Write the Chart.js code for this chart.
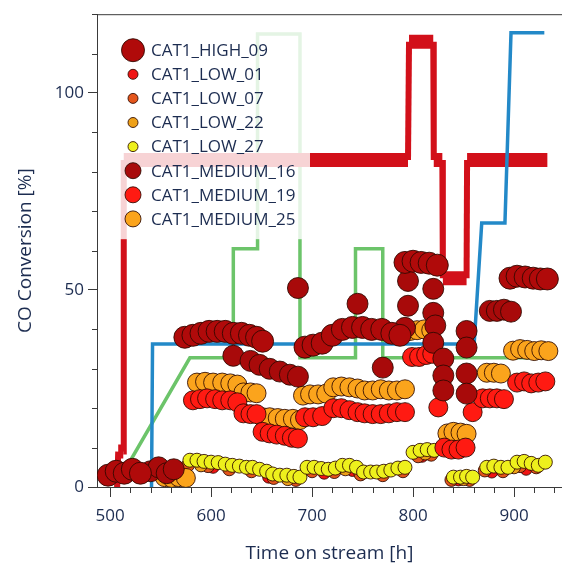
<!DOCTYPE html>
<html><head><meta charset="utf-8">
<script src="https://cdn.jsdelivr.net/npm/chart.js@4.4.1/dist/chart.umd.min.js"></script>
<style>html,body{margin:0;padding:0;background:#fff;}canvas{display:block;}</style>
</head><body>
<canvas id="c" width="562" height="569"></canvas>
<script>
// ---------- text ----------
const xTitle = 'Time on stream [h]';
const yTitle = 'CO Conversion [%]';
const xTicks = [500, 600, 700, 800, 900];
const yTicks = [0, 50, 100];
const xMinorStep = 20;
const yMinorStep = 10;
const seriesNames = ['CAT1_HIGH_09','CAT1_LOW_01','CAT1_LOW_07','CAT1_LOW_22','CAT1_LOW_27','CAT1_MEDIUM_16','CAT1_MEDIUM_19','CAT1_MEDIUM_25'];

// ---------- marker series (hours, CO conversion %) ----------
const high09Hours  = [498, 506, 514, 522, 530, 574, 582, 590, 598, 606, 614, 622, 630, 638, 645, 651, 693, 701, 710, 720, 730, 740, 750, 759, 769, 779, 787, 792, 800, 808, 816, 824, 896, 903, 911, 919, 926, 933];
const high09Values = [3, 4, 3.5, 4.5, 3.5, 38, 38.5, 39, 39.5, 39.5, 39.5, 39, 39, 38.5, 38, 37, 35.5, 36, 36.5, 38.5, 40, 40.5, 40.5, 40, 40, 39, 38.5, 57, 57.3, 57, 56.8, 56.3, 53, 53.5, 53.3, 53, 52.8, 52.8];

const low01Hours  = [602, 657, 712, 740, 809, 845, 878, 912];
const low01Values = [5, 2.5, 3.5, 4.2, 7.8, 1.8, 3.8, 4.5];

const low07Hours  = [577, 597, 618, 640, 662, 684, 700, 722, 748, 770, 790, 805, 818, 838, 856, 871, 889, 906, 922];
const low07Values = [5.5, 5.3, 4.5, 4, 2.3, 1.8, 4, 3.8, 3.2, 3, 4, 7.8, 8.2, 1.8, 1.8, 4.2, 4, 5.3, 5];

const low22Hours  = [590, 676, 733, 812, 850, 900];
const low22Values = [5.5, 2, 4.5, 8.5, 2, 5];

const low27Hours  = [579, 586, 593, 600, 607, 614, 621, 628, 635, 641, 648, 655, 661, 668, 675, 682, 688, 695, 702, 709, 716, 723, 730, 737, 744, 751, 758, 764, 771, 778, 785, 792, 800, 807, 814, 821, 840, 847, 853, 859, 873, 880, 887, 894, 903, 910, 917, 924, 931];
const low27Values = [6.8, 6.8, 6.5, 6.3, 6.2, 5.8, 5.5, 5.3, 5, 5, 4.5, 4, 3.3, 3, 3, 2.7, 2.5, 5, 5, 4.7, 4.5, 4.8, 5.5, 5.5, 5, 3.8, 3.8, 3.8, 4, 4.3, 4.8, 5, 8.8, 9.3, 9.5, 9.3, 2.5, 2.5, 2.7, 2.5, 5, 5.3, 5, 5, 6.3, 6.5, 6, 5.5, 6.3];

const medium16Hours  = [540, 548, 556, 563, 622, 639, 648, 658, 668, 678, 686, 686, 745, 770, 792, 795, 795, 820, 820, 822, 820, 830, 830, 830, 853, 853, 853, 853, 876, 883, 890, 897];
const medium16Values = [4, 5, 3.5, 4.5, 33.3, 32, 31, 30, 29.3, 28.5, 28, 50.5, 46.5, 30.3, 40.4, 52.3, 46, 50.3, 44.2, 41, 36.6, 32.6, 28.3, 24.5, 39.6, 35.4, 28.8, 23.7, 44.7, 44.7, 45, 44.5];

const medium19Hours  = [582, 589, 596, 604, 611, 619, 626, 632, 639, 645, 651, 658, 665, 673, 680, 686, 693, 701, 710, 721, 729, 737, 745, 752, 760, 768, 776, 784, 792, 799, 806, 813, 819, 825, 831, 838, 845, 852, 859, 869, 876, 883, 890, 903, 910, 917, 924, 931];
const medium19Values = [22, 22.3, 22.5, 22.3, 22, 22, 21.5, 18.7, 18.5, 18.5, 14, 13.6, 13.3, 13, 12.5, 12.3, 17.7, 17.7, 18, 20, 20, 19.5, 19, 18.7, 18.5, 18.5, 18.7, 19, 19, 33, 33, 33.5, 33.8, 20.2, 10, 9.5, 9.5, 10, 19, 22.5, 22.5, 22.5, 22.3, 26.5, 26.8, 26.3, 26.5, 26.8];

const medium25Hours  = [554, 561, 568, 575, 586, 594, 602, 611, 619, 626, 632, 639, 645, 651, 658, 666, 673, 681, 688, 691, 698, 706, 714, 721, 729, 737, 745, 752, 760, 768, 776, 784, 792, 797, 804, 811, 818, 834, 840, 847, 853, 873, 880, 887, 899, 906, 913, 920, 927, 934];
const medium25Values = [2.5, 2.3, 2.5, 2.3, 26.5, 26.7, 26.5, 26.5, 26.3, 26, 24, 24, 23.8, 17.7, 17.7, 17.5, 17.3, 17.3, 17, 23.2, 23.5, 23.5, 23.7, 25.3, 25.5, 25.3, 25, 24.5, 24.5, 24.8, 24.5, 24.5, 24.8, 39.6, 39.8, 40, 39.8, 13.6, 14, 13.8, 13.5, 29, 29, 28.8, 34.6, 35, 34.8, 34.5, 34.7, 34.5];

// ---------- step lines ----------
const redLineHours   = [507, 508, 513, 513.5, 795, 796, 820, 820.5, 829, 829.5, 853, 853.5, 933];
const redLineValues  = [0, 9, 9, 83, 83, 113, 113, 83, 83, 53, 53, 83, 83];
const blueLineHours  = [541, 542, 860.5, 868, 891, 897, 930];
const blueLineValues = [0, 36.3, 36.3, 67, 67, 115.3, 115.3];
const greenLineHours  = [505, 579, 622, 622, 646, 646, 688, 688, 743, 743, 770, 770, 933];
const greenLineValues = [0, 32.8, 32.8, 60.5, 60.5, 115, 115, 32.8, 32.8, 60.5, 60.5, 32.8, 32.8];

// ---------- styles ----------
const FONT = "'Open Sans', 'DejaVu Sans', sans-serif";
const TEXT = '#1c2c50';
const AXIS = '#3a3a3a';
const MARKER_EDGE = 'rgba(45,8,0,0.85)';
const styles = {
  'CAT1_HIGH_09':   {fill:'#b00a0a', r:11,  legendR:11.5, order:1},
  'CAT1_LOW_01':    {fill:'#f01414', r:6,   legendR:5,    order:8},
  'CAT1_LOW_07':    {fill:'#e4561c', r:6.5, legendR:5,    order:7},
  'CAT1_LOW_22':    {fill:'#eea018', r:6.5, legendR:5,    order:6},
  'CAT1_LOW_27':    {fill:'#eef01c', r:7,   legendR:5,    order:5},
  'CAT1_MEDIUM_16': {fill:'#a80a0a', r:10.5,legendR:8,    order:2},
  'CAT1_MEDIUM_19': {fill:'#ff1a12', r:9.5, legendR:8,    order:3},
  'CAT1_MEDIUM_25': {fill:'#fba41c', r:9.5, legendR:8,    order:4}
};
const seriesData = {
  'CAT1_HIGH_09':   [high09Hours, high09Values],
  'CAT1_LOW_01':    [low01Hours, low01Values],
  'CAT1_LOW_07':    [low07Hours, low07Values],
  'CAT1_LOW_22':    [low22Hours, low22Values],
  'CAT1_LOW_27':    [low27Hours, low27Values],
  'CAT1_MEDIUM_16': [medium16Hours, medium16Values],
  'CAT1_MEDIUM_19': [medium19Hours, medium19Values],
  'CAT1_MEDIUM_25': [medium25Hours, medium25Values]
};
const pts = (h, v) => h.map((x, i) => ({x: x, y: v[i]}));

const datasets = seriesNames.map(n => ({
  label: n,
  data: pts(seriesData[n][0], seriesData[n][1]),
  backgroundColor: styles[n].fill,
  borderColor: MARKER_EDGE,
  borderWidth: 1,
  pointRadius: styles[n].r,
  pointHoverRadius: styles[n].r,
  order: styles[n].order
}));

datasets.push({
  label: 'blue', data: pts(blueLineHours, blueLineValues), showLine: true,
  borderColor: '#2389c8', borderWidth: 3.5, pointRadius: 0, order: 20
});
datasets.push({
  label: 'red', data: pts(redLineHours, redLineValues), showLine: true,
  borderColor: '#d2101a', borderWidth: 7, pointRadius: 0, order: 21,
  segment: { borderWidth: ctx => (ctx.p0.parsed.y === ctx.p1.parsed.y ? 14 : 6) }
});
datasets.push({
  label: 'green', data: pts(greenLineHours, greenLineValues), showLine: true,
  borderColor: '#6cc46a', borderWidth: 3.5, pointRadius: 0, order: 22
});

// legend drawn inside the plot, over the data
const insideLegend = {
  id: 'insideLegend',
  afterDatasetsDraw(chart) {
    const {ctx, chartArea: a} = chart;
    const x0 = a.left + 16, y0 = a.top + 10, w = 197, h = 215;
    ctx.save();
    ctx.fillStyle = 'rgba(255,255,255,0.82)';
    ctx.fillRect(x0, y0, w, h);
    ctx.font = '17px ' + FONT;
    ctx.textBaseline = 'middle';
    ctx.textAlign = 'left';
    seriesNames.forEach((n, i) => {
      const cy = y0 + 26 + i * 24.1;
      const cx = x0 + 20;
      ctx.beginPath();
      ctx.arc(cx, cy, styles[n].legendR, 0, Math.PI * 2);
      ctx.fillStyle = styles[n].fill;
      ctx.fill();
      ctx.lineWidth = 1;
      ctx.strokeStyle = MARKER_EDGE;
      ctx.stroke();
      ctx.fillStyle = TEXT;
      ctx.fillText(n, x0 + 38, cy + 1);
    });
    ctx.restore();
  }
};

// minor ticks and top frame line
const minorTicks = {
  id: 'minorTicks',
  afterDraw(chart) {
    const {ctx, chartArea: a, scales: {x, y}} = chart;
    ctx.save();
    ctx.strokeStyle = AXIS;
    ctx.lineWidth = 1;
    ctx.beginPath();
    for (let v = Math.ceil(x.min / xMinorStep) * xMinorStep; v <= x.max; v += xMinorStep) {
      if (xTicks.includes(v)) continue;
      const px = Math.round(x.getPixelForValue(v)) + 0.5;
      ctx.moveTo(px, a.bottom); ctx.lineTo(px, a.bottom + 6);
    }
    for (let v = Math.ceil(y.min / yMinorStep) * yMinorStep; v <= y.max; v += yMinorStep) {
      if (yTicks.includes(v)) continue;
      const py = Math.round(y.getPixelForValue(v)) + 0.5;
      ctx.moveTo(a.left, py); ctx.lineTo(a.left - 5, py);
    }
    ctx.moveTo(a.left, a.top + 0.5); ctx.lineTo(a.right, a.top + 0.5);
    ctx.stroke();
    ctx.restore();
  }
};

new Chart(document.getElementById('c'), {
  type: 'scatter',
  data: { datasets: datasets },
  options: {
    responsive: false,
    animation: false,
    devicePixelRatio: 1,
    layout: { autoPadding: false, padding: { top: 12, right: 0, left: 0, bottom: 0 } },
    plugins: { legend: { display: false }, tooltip: { enabled: false } },
    scales: {
      x: {
        type: 'linear', min: 487, max: 947.5,
        afterFit: s => { s.height = 82; },
        afterBuildTicks: s => { s.ticks = xTicks.map(v => ({value: v})); },
        border: { display: true, color: AXIS, width: 1 },
        grid: { drawOnChartArea: false, drawTicks: true, tickLength: 10, tickColor: AXIS },
        ticks: { color: TEXT, font: { family: FONT, size: 17 }, padding: 9, maxRotation: 0, autoSkip: false },
        title: { display: true, text: xTitle, color: TEXT, font: { family: FONT, size: 19 }, padding: { top: 0, bottom: 4 } }
      },
      y: {
        type: 'linear', min: 0, max: 120,
        afterFit: s => { s.width = 97; },
        afterBuildTicks: s => { s.ticks = yTicks.map(v => ({value: v})); },
        border: { display: true, color: AXIS, width: 1 },
        grid: { drawOnChartArea: false, drawTicks: true, tickLength: 9, tickColor: AXIS },
        ticks: { color: TEXT, font: { family: FONT, size: 17 }, padding: 4 },
        title: { display: true, text: yTitle, color: TEXT, font: { family: FONT, size: 19 }, padding: { top: 14, bottom: 0 } }
      }
    }
  },
  plugins: [insideLegend, minorTicks]
});
</script>
</body></html>
